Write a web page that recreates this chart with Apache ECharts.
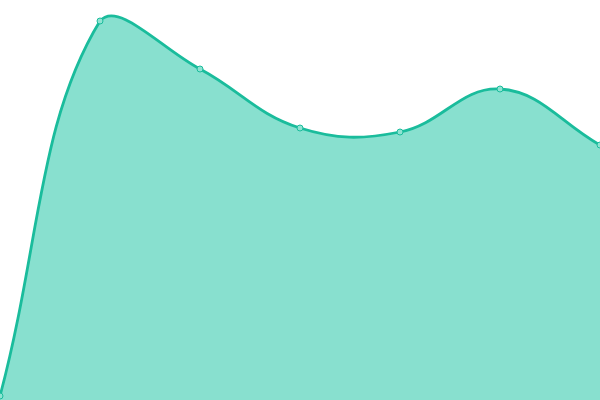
<!DOCTYPE html>
<html><head><meta charset="utf-8">
<script src="https://cdn.jsdelivr.net/npm/echarts@6/dist/echarts.min.js"></script>
<style>html,body{margin:0;padding:0;background:#fff}#c{width:600px;height:400px}</style>
</head><body><div id="c"></div>
<script>
const categories = ['A','B','C','D','E','F','G'];
const values = [4, 379, 331, 272, 268, 311, 255];
const TENSION = 0.4;
const LINE = '#1abc9c';
const FILL = '#88e0cf';

function buildPaths(pts, bottomY, W, H) {
  const cps = pts.map((p, i) => {
    const prev = pts[i - 1] || p, next = pts[i + 1] || p;
    const d01 = Math.hypot(p[0] - prev[0], p[1] - prev[1]);
    const d12 = Math.hypot(next[0] - p[0], next[1] - p[1]);
    let fa = d01 / (d01 + d12), fb = d12 / (d01 + d12);
    fa = isNaN(fa) ? 0 : fa * TENSION; fb = isNaN(fb) ? 0 : fb * TENSION;
    const clamp = (v, lo, hi) => Math.max(lo, Math.min(hi, v));
    return {
      prev: [clamp(p[0] - fa * (next[0] - prev[0]), 0, W), clamp(p[1] - fa * (next[1] - prev[1]), 0, H)],
      next: [clamp(p[0] + fb * (next[0] - prev[0]), 0, W), clamp(p[1] + fb * (next[1] - prev[1]), 0, H)]
    };
  });
  let d = 'M' + pts[0][0] + ' ' + pts[0][1];
  for (let i = 1; i < pts.length; i++) {
    const a = cps[i - 1].next, b = cps[i].prev, p = pts[i];
    d += ' C' + a[0] + ' ' + a[1] + ' ' + b[0] + ' ' + b[1] + ' ' + p[0] + ' ' + p[1];
  }
  const area = d + ' L' + pts[pts.length - 1][0] + ' ' + bottomY + ' L' + pts[0][0] + ' ' + bottomY + ' Z';
  return {line: d, area: area};
}

const chart = echarts.init(document.getElementById('c'));
chart.setOption({
  animation: false,
  grid: {left: 0, right: 0, top: 0, bottom: 0},
  xAxis: {type: 'category', data: categories, boundaryGap: false, show: false},
  yAxis: {type: 'value', min: 0, max: 400, show: false},
  series: [{
    type: 'custom',
    data: values.map((v, i) => [i, v]),
    clip: false,
    renderItem: function (params, api) {
      if (params.dataIndex !== 0) return null;
      const pts = values.map((v, i) => api.coord([i, v]));
      const bottomY = api.coord([0, 0])[1];
      const paths = buildPaths(pts, bottomY, api.getWidth(), api.getHeight());
      return {
        type: 'group',
        children: [
          {type: 'path', shape: {pathData: paths.area}, style: {fill: FILL, stroke: null}},
          {type: 'path', shape: {pathData: paths.line}, style: {fill: null, stroke: LINE, lineWidth: 2.8}}
        ]
      };
    }
  }, {
    type: 'line',
    data: values,
    symbol: 'circle',
    symbolSize: 6,
    showAllSymbol: true,
    lineStyle: {opacity: 0},
    itemStyle: {color: '#8fe3d2', borderColor: LINE, borderWidth: 1},
    z: 5
  }]
});
</script></body></html>
